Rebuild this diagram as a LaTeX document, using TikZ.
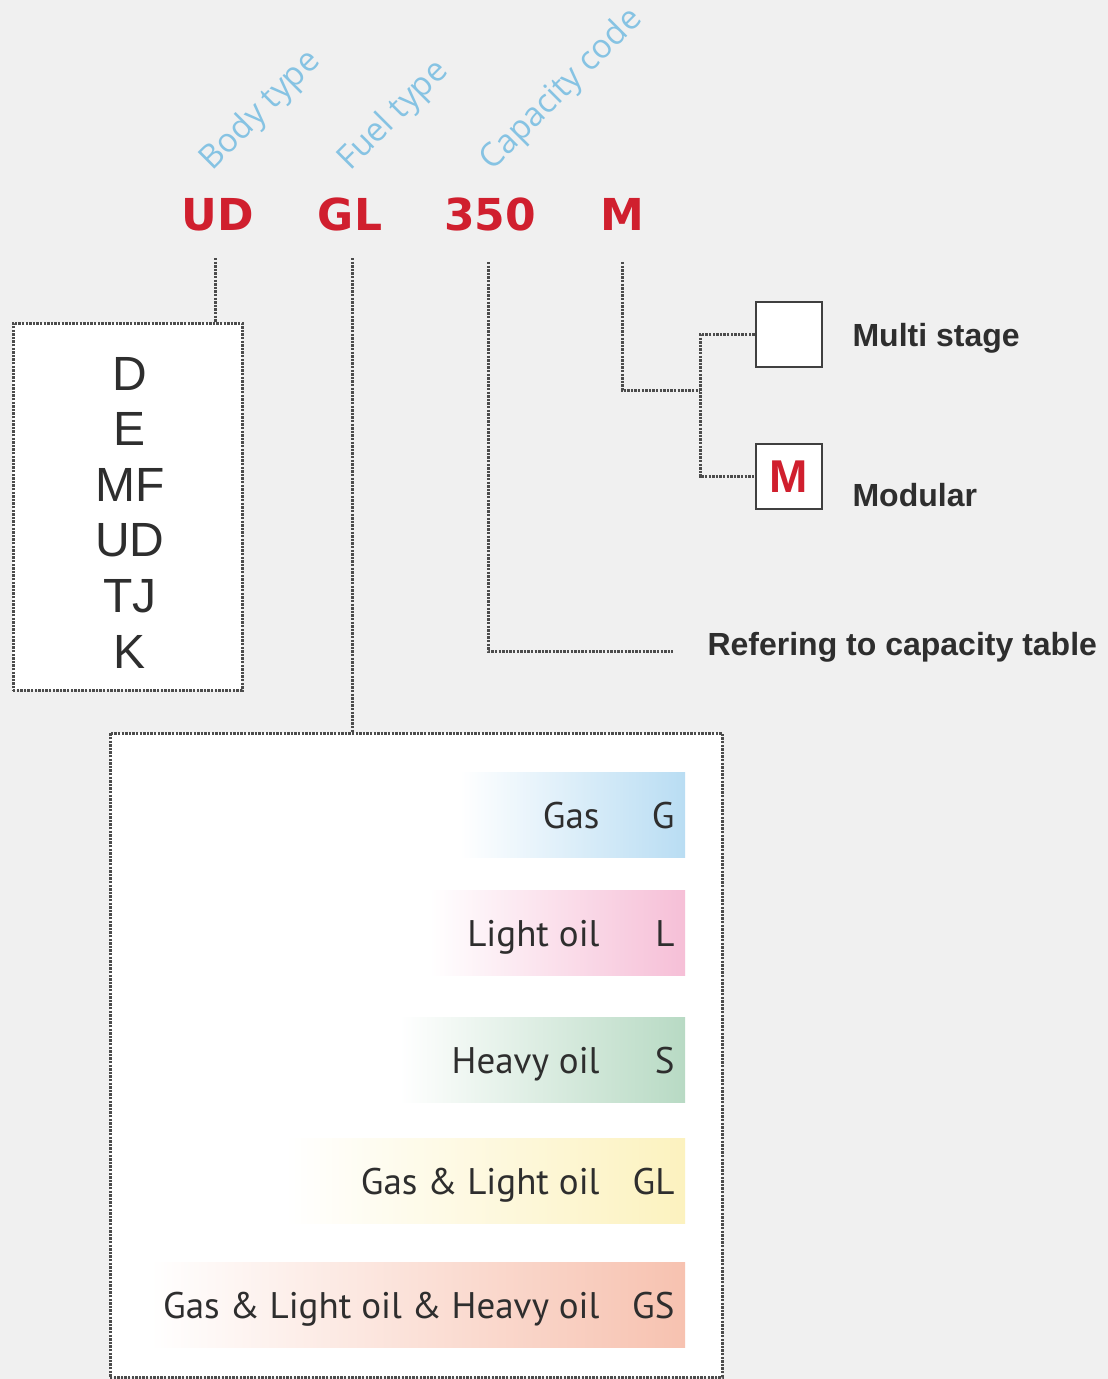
\documentclass[tikz,border=0pt]{standalone}
\usepackage{fontspec}
\usepackage{tikz}
\usetikzlibrary{calc,positioning}
\newfontfamily\codefont{DejaVu Sans}
\newfontfamily\labelfont{Open Sans}
\newfontfamily\letterfont{Liberation Sans}
\newfontfamily\fuelfont{PT Sans}
\definecolor{bggray}{HTML}{F0F0F0}
\definecolor{codered}{HTML}{D01F2E}
\definecolor{labelblue}{HTML}{86C3E3}
\definecolor{textgray}{HTML}{2E2E2E}
\definecolor{gasblue}{HTML}{B9DDF3}
\definecolor{oilpink}{HTML}{F6BFD7}
\definecolor{heavygreen}{HTML}{B8DAC4}
\definecolor{mixyellow}{HTML}{FCF2BF}
\definecolor{allsalmon}{HTML}{F7C2B0}

\begin{document}
\begin{tikzpicture}[x=1pt,y=-1pt,
  dotline/.style={line width=3pt,black!70,dash pattern=on 2.4pt off 1.2pt},
  codetext/.style={anchor=base,text=codered,font=\codefont\bfseries\fontsize{44}{50}\selectfont},
  typelabel/.style={anchor=base west,rotate=45,text=labelblue,font=\labelfont\fontsize{33}{40}\selectfont},
  bodyletter/.style={anchor=base,text=textgray,font=\letterfont\fontsize{48}{56}\selectfont},
  notetext/.style={anchor=base west,text=textgray,font=\letterfont\bfseries\fontsize{32}{38}\selectfont},
  fuelname/.style={anchor=base east,text=textgray,font=\fuelfont\fontsize{37}{44}\selectfont},
  optbox/.style={draw=black!75,line width=2.8pt,fill=white,minimum width=66,minimum height=65,inner sep=0pt}]
  \fill[bggray] (0,0) rectangle (1108,1379);
  \useasboundingbox (0,0) rectangle (1108,1379);
  \node[codetext] (codeUD) at (218,230) {UD};
  \node[codetext] (codeGL) at (350,230) {GL};
  \node[codetext] (codeCap) at (490,230) {350};
  \node[codetext] (codeM) at (622,230) {M};
  \node[typelabel] (bodytype) at (210,174) {Body type};
  \node[typelabel] (fueltype) at (348,174) {Fuel type};
  \node[typelabel] (captype) at (490,174) {Capacity code};
  \node[draw,dotline,fill=white,minimum width=229,minimum height=367] (bodybox) at (127.5,506.5) {};
  \foreach \bodycode [count=\k] in {D,E,MF,UD,TJ,K}
    \node[bodyletter] (body\bodycode) at (130,{390+55.6*(\k-1)}) {\bodycode};
  \node[draw,dotline,fill=white,minimum width=612,minimum height=644] (fuelbox) at (416,1055) {};
  \foreach \bandtop/\bandleft/\bandcol/\fuelname/\fuelcode in {772/460/gasblue/Gas/G,890/430/oilpink/Light oil/L,1017/400/heavygreen/Heavy oil/S,1138/285/mixyellow/Gas \& Light oil/GL,1262/150/allsalmon/Gas \& Light oil \& Heavy oil/GS}{
    \shade[left color=white,right color=\bandcol] (\bandleft,\bandtop) rectangle (685,{\bandtop+85});
    \node[fuelname] (name\fuelcode) at (603,{\bandtop+56}) {\fuelname};
    \node[fuelname] (fuel\fuelcode) at (678,{\bandtop+56}) {\fuelcode};
  }
  \node[optbox] (multibox) at (789,334.5) {};
  \node[optbox,text=codered,font=\letterfont\bfseries\fontsize{46}{50}\selectfont] (modbox) at (789,476.5) {M};
  \node[notetext] (multinote) at (849,346) {Multi stage};
  \node[notetext] (modnote) at (849,506) {Modular};
  \node[notetext] (capnote) at (704,655) {Refering to capacity table};
  \coordinate (split) at (700,390);
  \draw[dotline] ($(codeUD.base)+(-3,28)$) -- (bodybox.north -| 215,0);
  \draw[dotline] ($(codeGL.base)+(2,28)$) -- (fuelbox.north -| 352,0);
  \draw[dotline] ($(codeCap.base)+(-2,32)$) |- ($(capnote.base west)+(-31,-4)$);
  \draw[dotline] ($(codeM.base)+(0,32)$) |- (split);
  \draw[dotline] (multibox.west) -| (split) |- (modbox.west);
\end{tikzpicture}
\end{document}
